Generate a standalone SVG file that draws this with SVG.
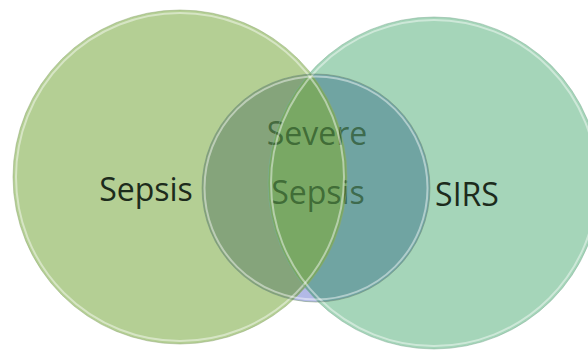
<svg xmlns="http://www.w3.org/2000/svg" width="588" height="352" viewBox="0 0 588 352">
  <style>
    .lbl { font-family: "Open Sans", "Liberation Sans", sans-serif; font-size: 32px; text-anchor: middle; }
    .dark { fill: #1c2b1c; }
    .inner { fill: #204a1c; fill-opacity: 0.65; }
    .rim { fill: none; stroke: #ffffff; stroke-opacity: 0.45; stroke-width: 2; }
    .edge { fill: none; stroke-width: 1; stroke-opacity: 0.5; }
  </style>
  <defs>
    <clipPath id="cL"><circle cx="180" cy="177" r="167"/></clipPath>
    <clipPath id="cR"><circle cx="434" cy="183" r="166"/></clipPath>
    <clipPath id="cM"><circle cx="316" cy="188" r="114"/></clipPath>
  </defs>
  <rect width="588" height="352" fill="#ffffff"/>

  <g id="sepsis">
    <circle cx="180" cy="177" r="167" fill="#b4cf94"/>
  </g>
  <g id="sirs">
    <circle cx="434" cy="183" r="166" fill="#a5d5b9"/>
    <g clip-path="url(#cL)">
      <circle cx="434" cy="183" r="166" fill="#96c48c"/>
    </g>
  </g>
  <g id="severe-sepsis">
    <circle cx="316" cy="188" r="114" fill="#b2b9e6"/>
    <g clip-path="url(#cL)">
      <circle cx="316" cy="188" r="114" fill="#85a47b"/>
    </g>
    <g clip-path="url(#cR)">
      <circle cx="316" cy="188" r="114" fill="#70a4a2"/>
      <g clip-path="url(#cL)">
        <circle cx="316" cy="188" r="114" fill="#79a864"/>
      </g>
    </g>
    <text class="lbl inner" x="317" y="145">Severe</text>
    <text class="lbl inner" x="318" y="204">Sepsis</text>
  </g>

  <g id="connectors"></g>

  <g id="rims">
    <circle class="edge" cx="180" cy="177" r="167" stroke="#8fa874"/>
    <circle class="rim" cx="180" cy="177" r="164"/>
    <circle class="edge" cx="434" cy="183" r="166" stroke="#7fae96"/>
    <circle class="rim" cx="434" cy="183" r="163"/>
    <circle class="edge" cx="316" cy="188" r="114" stroke="#6f8f6a" stroke-opacity="0.35"/>
    <circle class="rim" cx="316" cy="188" r="111.5"/>
  </g>

  <text class="lbl dark" x="146" y="201">Sepsis</text>
  <text class="lbl dark" x="467" y="206">SIRS</text>
</svg>
